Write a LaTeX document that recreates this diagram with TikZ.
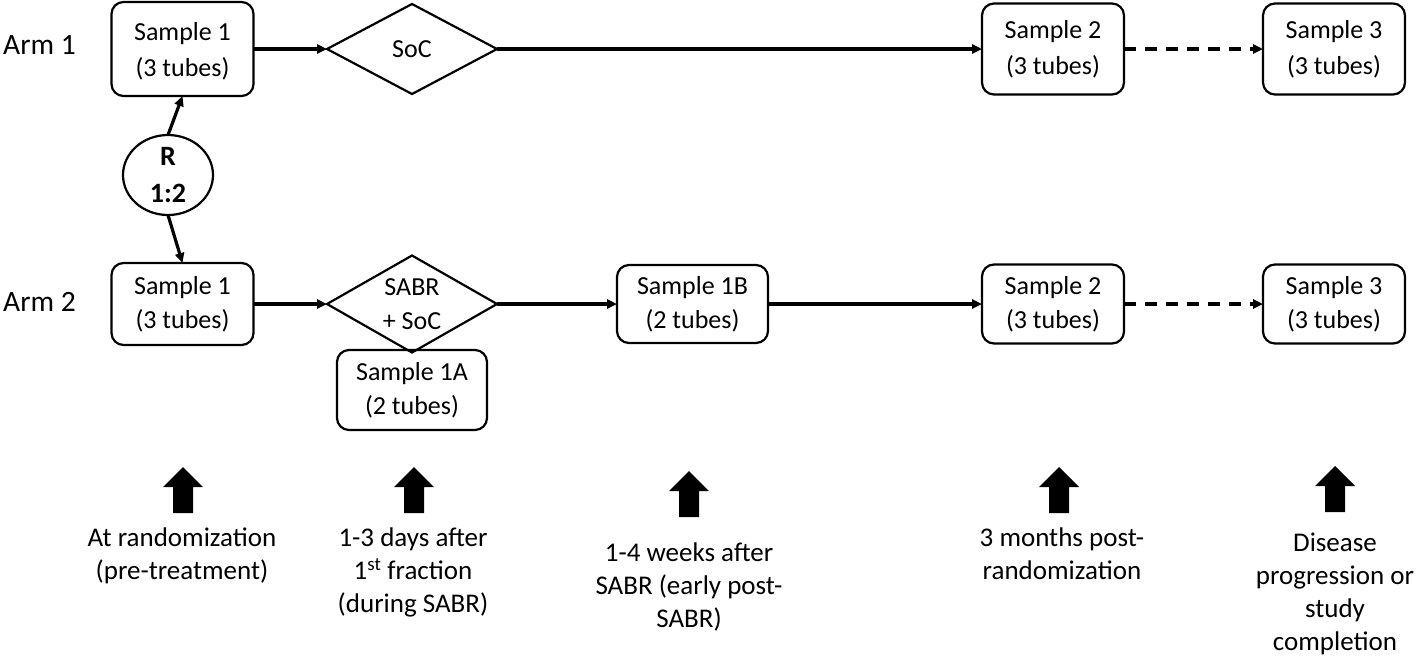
\documentclass[tikz,border=0pt]{standalone}
\usepackage{fontspec}
\setmainfont{Carlito}
\usetikzlibrary{arrows.meta,shapes.geometric}
\begin{document}
\begin{tikzpicture}[x=1pt,y=-1pt,
  box/.style={draw, line width=2.2pt, rounded corners=12pt, minimum width=142pt,
    align=center, inner sep=0pt, outer sep=0pt, font=\fontsize{26}{34}\selectfont},
  tallbox/.style={box, minimum height=92pt, font=\fontsize{26}{36}\selectfont},
  shortbox/.style={box, minimum height=80pt},
  dia/.style={draw, diamond, aspect=1.8, line width=2.2pt, minimum width=170pt,
    inner sep=0pt, outer sep=0pt, align=center, font=\fontsize{26}{34}\selectfont},
  conn/.style={line width=3.2pt, -{Triangle[length=10pt,width=9pt]}},
  dconn/.style={conn, dash pattern=on 12pt off 9pt},
  armlab/.style={font=\fontsize{29.5}{34}\selectfont, inner sep=0pt, anchor=west},
  note/.style={align=center, font=\fontsize{27}{33}\selectfont, anchor=north, inner sep=0pt},
  uparrow/.pic={\fill (0,0) -- (20,20) -- (10,20) -- (10,46) -- (-10,46) -- (-10,20) -- (-20,20) -- cycle;}
]
\useasboundingbox (0,0) rectangle (1418,657);

% arm labels
\node[armlab] (arm1) at (3,45) {Arm 1};
\node[armlab] (arm2) at (3,302) {Arm 2};

% arm 1
\node[tallbox, minimum height=94pt, text depth=0pt] (s1a) at (182.5,49) {Sample 1\\(3 tubes)};
\node[dia, minimum height=90pt] (soc) at (412,49) {SoC};
\node[tallbox, minimum height=91pt] (s2a) at (1053,49) {Sample 2\\(3 tubes)};
\node[tallbox, minimum height=91pt] (s3a) at (1334,49) {Sample 3\\(3 tubes)};

% randomisation
\node[draw, ellipse, line width=2.2pt, minimum width=90pt, minimum height=80pt,
  inner sep=0pt, outer sep=0pt, align=center,
  font=\bfseries\fontsize{28}{37}\selectfont] (rand) at (168,175) {R\\1:2};

% arm 2
\node[shortbox, minimum height=82pt] (s1b) at (182.5,304) {Sample 1\\(3 tubes)};
\node[dia, minimum height=97pt] (sabr) at (412,304) {SABR\\+ SoC};
\node[shortbox, minimum width=150pt] (s1aa) at (412,390) {Sample 1A\\(2 tubes)};
\node[shortbox, minimum width=151pt, minimum height=78pt] (s1bb) at (692.5,304) {Sample 1B\\(2 tubes)};
\node[shortbox, minimum height=79pt] (s2b) at (1053,304) {Sample 2\\(3 tubes)};
\node[shortbox, minimum height=79pt] (s3b) at (1334,304) {Sample 3\\(3 tubes)};

% connectors
\draw[conn] (rand.north) -- (s1a.south);
\draw[conn] (rand.south) -- (s1b.north);
\draw[conn] (s1a.east) -- (soc.west);
\draw[conn] (soc.east) -- (s2a.west);
\draw[dconn] (s2a.east) -- (s3a.west);
\draw[conn] (s1b.east) -- (sabr.west);
\draw[conn] (sabr.east) -- (s1bb.west);
\draw[conn] (s1bb.east) -- (s2b.west);
\draw[dconn] (s2b.east) -- (s3b.west);

% time points
\pic at (183,467) {uparrow};
\pic at (414,467) {uparrow};
\pic at (689,471) {uparrow};
\pic at (1059,467) {uparrow};
\pic at (1335,466) {uparrow};

\node[note] (t1) at (182,528) {At randomization\\(pre-treatment)};
\node[note] (t2) at (413,528) {1-3 days after\\1\textsuperscript{st} fraction\\(during SABR)};
\node[note] (t3) at (689,543) {1-4 weeks after\\SABR (early post-\\SABR)};
\node[note] (t4) at (1062,528) {3 months post-\\randomization};
\node[note] (t5) at (1335,533) {Disease\\progression or\\study\\completion};
\end{tikzpicture}
\end{document}
